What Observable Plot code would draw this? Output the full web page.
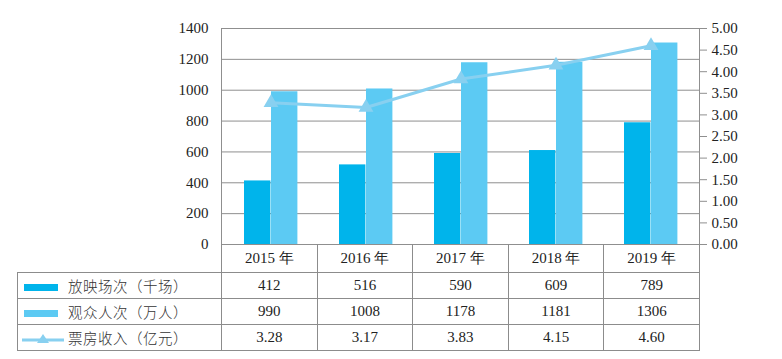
<!DOCTYPE html>
<html>
<head>
<meta charset="utf-8">
<script src="https://cdn.jsdelivr.net/npm/d3@7"></script>
<script src="https://cdn.jsdelivr.net/npm/@observablehq/plot@0.6"></script>
<style>
  html, body { margin: 0; padding: 0; background: #fff; }
  #wrap { position: relative; width: 782px; height: 359px; overflow: hidden; }
  #chart svg { display: block; }
  #tbl { position: absolute; left: 17px; top: 244px; border-collapse: collapse; table-layout: fixed; width: 682px;
         font-family: "Liberation Serif", "Times New Roman", serif; font-size: 15px; color: #222; }
  #tbl td { border: 1px solid #8c8c8c; text-align: center; padding: 0; white-space: nowrap; }
  #tbl tr.head td { height: 28px; border-top: none; }
  #tbl tr.head td.blank { border: none; border-right: 1px solid #8c8c8c; }
  #tbl tr.row td { height: 25px; }
  #tbl td.lab { text-align: left; font-family: "Noto Sans CJK SC", sans-serif; font-size: 14.5px; font-weight: 300; color: #333; letter-spacing: 0.5px; }
  .sw { display: inline-block; width: 34px; height: 7px; margin: 0 10px 0 6px; vertical-align: middle; position: relative; top: -1px; }
  .swl { display: inline-block; width: 42px; height: 12px; margin: 0 4px 0 4px; vertical-align: middle; position: relative; top: -1px; }
</style>
</head>
<body>
<div id="wrap">
  <div id="chart"></div>
  <table id="tbl"></table>
</div>
<script>
// ---- data ----
const years = ["2015", "2016", "2017", "2018", "2019"];
const yearLabels = ["2015 年", "2016 年", "2017 年", "2018 年", "2019 年"];
const screenings = [412, 516, 590, 609, 789];      // 放映场次（千场）
const audience = [990, 1008, 1178, 1181, 1306];    // 观众人次（万人）
const revenue = [3.28, 3.17, 3.83, 4.15, 4.60];    // 票房收入（亿元）
const seriesNames = ["放映场次（千场）", "观众人次（万人）", "票房收入（亿元）"];
const leftTicks = [0, 200, 400, 600, 800, 1000, 1200, 1400];
const rightTicks = [0, 0.5, 1, 1.5, 2, 2.5, 3, 3.5, 4, 4.5, 5];

const colors = ["#00b4eb", "#5ccaf3", "#88d0f0"];
const leftMax = 1400, rightMax = 5;
const k = leftMax / rightMax; // maps right axis onto left scale

const rows = years.map((y, i) => ({ year: y, s: screenings[i], a: audience[i], r: revenue[i] }));

const plot = Plot.plot({
  width: 782,
  height: 256,
  marginTop: 28,
  marginBottom: 12,
  marginLeft: 221,
  marginRight: 83,
  style: { fontFamily: "Liberation Serif, Times New Roman, serif", fontSize: "15px", color: "#222", background: "#fff", overflow: "visible" },
  x: { type: "band", domain: years, padding: 0, axis: null },
  y: { domain: [0, leftMax], axis: null },
  marks: [
    Plot.gridY(leftTicks.slice(1), { stroke: "#8f8f8f", strokeOpacity: 1 }),
    Plot.frame({ stroke: "#8f8f8f" }),
    Plot.barY(rows, { x: "year", y: "s", fill: colors[0], insetLeft: 21, insetRight: 47.6 }),
    Plot.barY(rows, { x: "year", y: "a", fill: colors[1], insetLeft: 48, insetRight: 20.6 }),
    Plot.line(rows, { x: "year", y: d => d.r * k, stroke: colors[2], strokeWidth: 3 }),
    Plot.dot(rows, { x: "year", y: d => d.r * k, symbol: "triangle", r: 5.5, fill: colors[2], stroke: "none" }),
    Plot.axisY(leftTicks, { anchor: "left", tickSize: 0, tickPadding: 13, tickFormat: d => String(d) }),
    Plot.axisY(rightTicks.map(v => v * k), { anchor: "right", tickSize: 7, tickPadding: 5, stroke: "#8f8f8f",
      tickFormat: v => (v / k).toFixed(2) })
  ]
});
document.getElementById("chart").appendChild(plot);

// ---- data table ----
const tbl = document.getElementById("tbl");
const colW = 478 / years.length;
let html = `<colgroup><col style="width:204px">${years.map(() => `<col style="width:${colW}px">`).join("")}</colgroup>`;
html += `<tr class="head"><td class="blank"></td>${yearLabels.map(l => `<td>${l}</td>`).join("")}</tr>`;
const swRect = c => `<span class="sw" style="background:${c}"></span>`;
const swLine = c => `<svg class="swl" viewBox="0 0 42 12"><line x1="0" y1="7" x2="42" y2="7" stroke="${c}" stroke-width="3"/><path d="M21 1 L27 10 L15 10 Z" fill="${c}"/></svg>`;
html += `<tr class="row"><td class="lab">${swRect(colors[0])}${seriesNames[0]}</td>${screenings.map(v => `<td>${v}</td>`).join("")}</tr>`;
html += `<tr class="row"><td class="lab">${swRect(colors[1])}${seriesNames[1]}</td>${audience.map(v => `<td>${v}</td>`).join("")}</tr>`;
html += `<tr class="row"><td class="lab">${swLine(colors[2])}${seriesNames[2]}</td>${revenue.map(v => `<td>${v.toFixed(2)}</td>`).join("")}</tr>`;
tbl.innerHTML = html;
</script>
</body>
</html>
